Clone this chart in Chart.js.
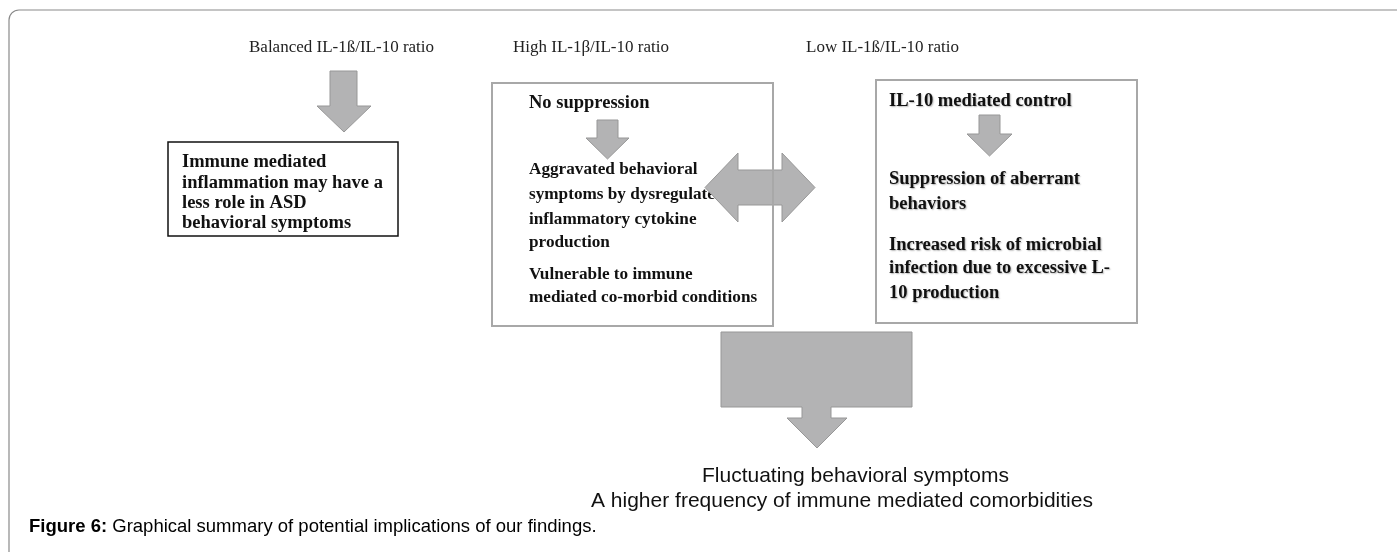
<!DOCTYPE HTML>
<html>
<head>
<title>Graphical summary - IL-1b / IL-10 ratio</title>
<style>
  body { margin: 0; background: #fff; }
  canvas { display: block; }
</style>
</head>
<body>
<canvas id="myChart" width="1397" height="552"></canvas>
<script src="https://cdn.jsdelivr.net/npm/chart.js@4"></script>
<script>
  // texts of the figure
  const ratioLabels = ['Balanced IL-1ß/IL-10 ratio', 'High IL-1β/IL-10 ratio', 'Low IL-1ß/IL-10 ratio'];
  const balancedLines = ['Immune mediated', 'inflammation may have a', 'less role in ASD', 'behavioral symptoms'];
  const highTitle = 'No suppression';
  const highLines = ['Aggravated behavioral', 'symptoms by dysregulated', 'inflammatory cytokine',
                     'production', 'Vulnerable to immune', 'mediated co-morbid conditions'];
  const lowLines = ['IL-10 mediated control', 'Suppression of aberrant', 'behaviors',
                    'Increased risk of microbial', 'infection due to excessive L-', '10 production'];
  const outcomeLines = ['Fluctuating behavioral symptoms', 'A higher frequency of immune mediated comorbidities'];
  const captionBold = 'Figure 6:';
  const captionText = ' Graphical summary of potential implications of our findings.';

  // layout (page units, mapped through the chart scales)
  const layout = {
    headers: [[249, 52], [513, 52], [806, 52]],
    box1: { x0: 168, y0: 142, x1: 398, y1: 236, tx: 182, base: [167, 188, 208, 228] },
    box2: { x0: 492, y0: 83, x1: 773, y1: 326, tx: 529, title: 108, base: [174, 199, 224, 247, 279, 302] },
    box3: { x0: 876, y0: 80, x1: 1137, y1: 323, tx: 889, base: [106, 184, 209, 250, 273, 298] },
    outcome: [[702, 482], [591, 507]],
    caption: [29, 532]
  };

  const SERIF = '"Liberation Serif", "Times New Roman", serif';
  const SANS = '"Liberation Sans", Arial, sans-serif';
  const ARROW_FILL = '#b3b3b4';
  const ARROW_LINE = '#979797';

  function downArrow(sx0, sx1, top, base, hx0, hx1, tip) {
    const c = (hx0 + hx1) / 2;
    return [[sx0, top], [sx1, top], [sx1, base], [hx1, base], [c, tip], [hx0, base], [sx0, base]];
  }

  const shapes = {
    arrow1: downArrow(330, 357, 71, 106, 317, 371, 132),
    arrow2: downArrow(597, 618, 120, 138, 586, 629, 159),
    arrow3: downArrow(979, 1000, 115, 134, 967, 1012, 156),
    both: [[705, 187.5], [738, 153], [738, 170], [782, 170], [782, 153], [815, 187.5],
           [782, 222], [782, 205], [738, 205], [738, 222]],
    big: [[721, 332], [912, 332], [912, 407], [831, 407], [831, 418], [847, 418], [817, 448],
          [787, 418], [802, 418], [802, 407], [721, 407]]
  };

  const diagram = {
    id: 'diagram',
    afterDraw(chart) {
      const ctx = chart.ctx;
      const sx = chart.scales.x, sy = chart.scales.y;
      const X = v => sx.getPixelForValue(v);
      const Y = v => sy.getPixelForValue(v);

      function poly(pts, fill, line) {
        ctx.beginPath();
        pts.forEach((p, i) => i ? ctx.lineTo(X(p[0]), Y(p[1])) : ctx.moveTo(X(p[0]), Y(p[1])));
        ctx.closePath();
        ctx.fillStyle = fill; ctx.fill();
        ctx.lineWidth = 1; ctx.strokeStyle = line; ctx.stroke();
      }
      function rect(b, color, w) {
        ctx.lineWidth = w; ctx.strokeStyle = color;
        ctx.strokeRect(X(b.x0), Y(b.y0), X(b.x1) - X(b.x0), Y(b.y1) - Y(b.y0));
      }
      function lines(b, arr, size) {
        ctx.font = 'bold ' + size + 'px ' + SERIF;
        ctx.fillStyle = '#111';
        arr.forEach((t, i) => ctx.fillText(t, X(b.tx), Y(b.base[i])));
      }

      ctx.save();
      ctx.textBaseline = 'alphabetic';
      ctx.textAlign = 'left';

      // outer frame, only the top left corner is visible
      ctx.beginPath();
      ctx.moveTo(X(9), Y(552));
      ctx.lineTo(X(9), Y(20));
      ctx.arcTo(X(9), Y(10), X(19), Y(10), 10);
      ctx.lineTo(X(1397), Y(10));
      ctx.lineWidth = 1.2; ctx.strokeStyle = '#8a8a8a'; ctx.stroke();

      // headers
      ctx.font = '17px ' + SERIF;
      ctx.fillStyle = '#222';
      ratioLabels.forEach((t, i) => ctx.fillText(t, X(layout.headers[i][0]), Y(layout.headers[i][1])));

      poly(shapes.arrow1, ARROW_FILL, ARROW_LINE);
      poly(shapes.arrow2, ARROW_FILL, ARROW_LINE);
      poly(shapes.arrow3, ARROW_FILL, ARROW_LINE);

      // balanced box
      rect(layout.box1, '#111', 1.5);
      lines(layout.box1, balancedLines, 18.5);

      // high ratio box
      ctx.font = 'bold 18.5px ' + SERIF;
      ctx.fillText(highTitle, X(layout.box2.tx), Y(layout.box2.title));
      lines(layout.box2, highLines, 17.2);

      // low ratio box, text with a soft shadow
      ctx.save();
      ctx.shadowColor = 'rgba(0,0,0,0.28)';
      ctx.shadowOffsetX = 1; ctx.shadowOffsetY = 1; ctx.shadowBlur = 1.5;
      lines(layout.box3, lowLines, 18.5);
      ctx.restore();

      poly(shapes.both, ARROW_FILL, ARROW_LINE);
      rect(layout.box2, '#a8a8a8', 2);
      rect(layout.box3, '#a8a8a8', 2);

      poly(shapes.big, ARROW_FILL, ARROW_LINE);

      // outcome
      ctx.font = '21px ' + SANS;
      ctx.fillStyle = '#111';
      outcomeLines.forEach((t, i) => ctx.fillText(t, X(layout.outcome[i][0]), Y(layout.outcome[i][1])));

      // caption
      const cx = X(layout.caption[0]), cy = Y(layout.caption[1]);
      ctx.font = 'bold 18.5px ' + SANS;
      ctx.fillStyle = '#000';
      ctx.fillText(captionBold, cx, cy);
      const w = ctx.measureText(captionBold).width;
      ctx.font = '18.5px ' + SANS;
      ctx.fillText(captionText, cx + w, cy);

      ctx.restore();
    }
  };

  const myChart = new Chart(document.getElementById('myChart'), {
    type: 'scatter',
    data: { datasets: [{ label: 'diagram', data: [] }] },
    options: {
      responsive: false,
      animation: false,
      layout: { padding: 0 },
      plugins: { legend: { display: false }, tooltip: { enabled: false } },
      scales: {
        x: { type: 'linear', min: 0, max: 1397, display: false },
        y: { type: 'linear', min: 0, max: 552, reverse: true, display: false }
      }
    },
    plugins: [diagram]
  });
</script>
</body>
</html>
